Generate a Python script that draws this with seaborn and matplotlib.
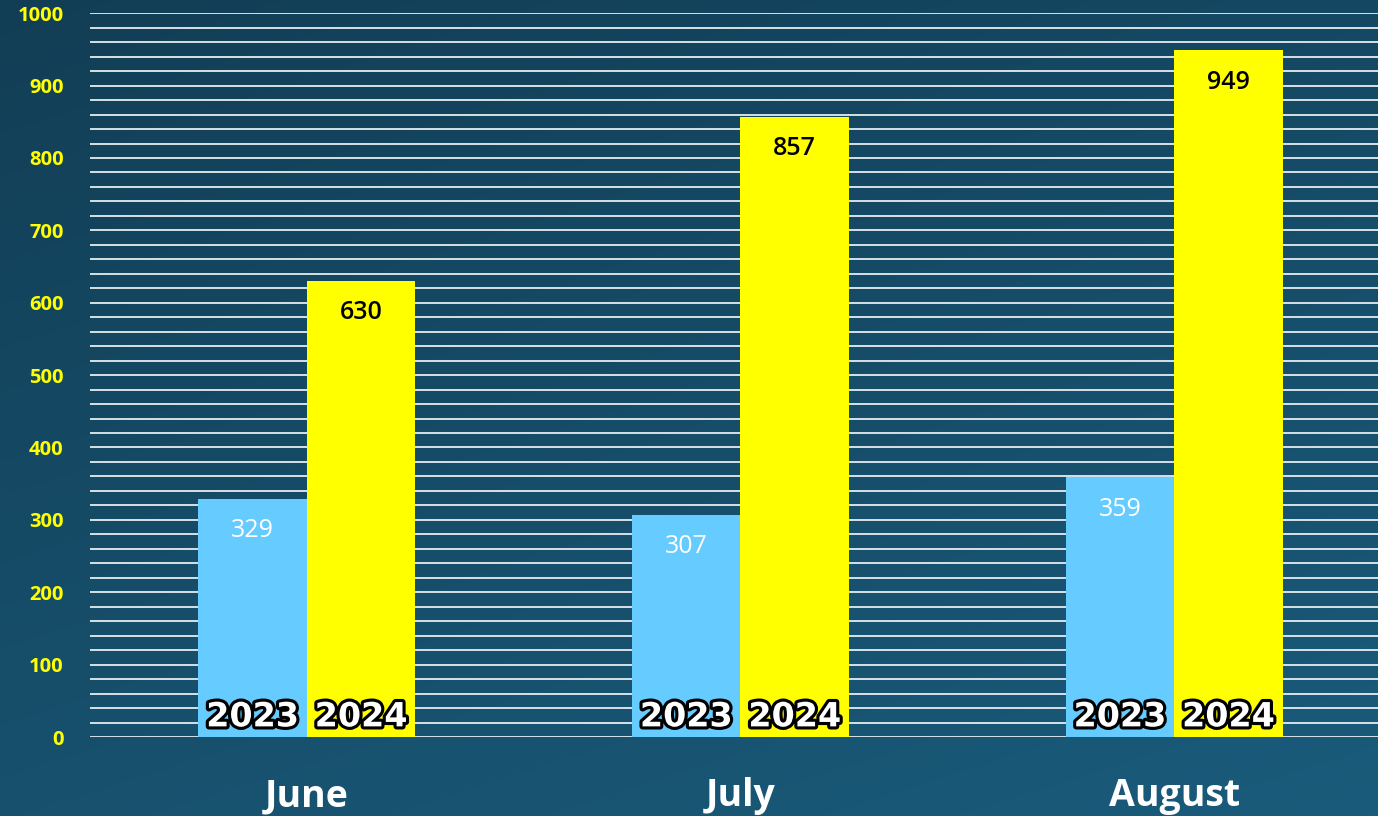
import numpy as np
import pandas as pd
import matplotlib.pyplot as plt
import matplotlib.patheffects as pe
from matplotlib.colors import LinearSegmentedColormap
import seaborn as sns

# Chart data
months = ['June', 'July', 'August']
years = ['2023', '2024']
values_2023 = [329, 307, 359]
values_2024 = [630, 857, 949]
y_ticks = [0, 100, 200, 300, 400, 500, 600, 700, 800, 900, 1000]

bar_colors = {'2023': '#66CCFF', '2024': '#FFFF00'}
label_colors = {'2023': 'white', '2024': 'black'}

df = pd.DataFrame({
    'month': months * 2,
    'year': ['2023'] * 3 + ['2024'] * 3,
    'value': values_2023 + values_2024,
})

sns.set_theme(style='white')
plt.rcParams['font.family'] = ['Open Sans', 'DejaVu Sans']

fig = plt.figure(figsize=(13.78, 8.16), dpi=100)

# diagonal gradient background
bg = fig.add_axes([0, 0, 1, 1])
gx, gy = np.meshgrid(np.linspace(0, 1, 300), np.linspace(0, 1, 300))
grad = 0.35 * gx + 0.65 * gy
cmap = LinearSegmentedColormap.from_list('bg', ['#123e55', '#1a5b7b'])
bg.imshow(grad, cmap=cmap, aspect='auto', extent=[0, 1, 0, 1], origin='upper')
bg.set_axis_off()

ax = fig.add_axes([0.0653, 0.0968, 0.9347, 0.887])
ax.patch.set_alpha(0)

sns.barplot(data=df, x='month', y='value', hue='year', hue_order=years,
            palette=bar_colors, width=0.5, saturation=1, ax=ax,
            legend=False, linewidth=0)

ax.set_xlim(-0.5, 2.47)
ax.set_ylim(0, 1000)
ax.set_yticks(y_ticks)
ax.set_yticks(np.arange(0, 1001, 20), minor=True)
ax.set_axisbelow(True)
ax.grid(which='both', axis='y', color='#e6edf0', linewidth=1.3)
ax.grid(which='both', axis='x', visible=False)
for s in ax.spines.values():
    s.set_visible(False)

ax.tick_params(axis='y', which='both', length=0, pad=19)
ax.tick_params(axis='x', length=0, pad=29)
for lbl in ax.get_yticklabels():
    lbl.set_color('#FFFF00')
    lbl.set_fontweight('bold')
    lbl.set_fontsize(14.5)
for lbl in ax.get_xticklabels():
    lbl.set_color('white')
    lbl.set_fontweight('bold')
    lbl.set_fontsize(27)
ax.set_xlabel('')
ax.set_ylabel('')

# value labels inside bar tops and year labels at bar bottoms
for year, cont in zip(years, ax.containers):
    for bar in cont:
        xc = bar.get_x() + bar.get_width() / 2
        h = bar.get_height()
        ax.annotate(f'{h:.0f}', (xc, h), xytext=(0, -23), textcoords='offset points',
                    ha='center', va='center', fontsize=18,
                    fontweight='semibold' if year == '2024' else 'normal',
                    color=label_colors[year])
        ax.annotate(year, (xc, 0), xytext=(0, 14.5), textcoords='offset points',
                    ha='center', va='center', fontsize=24, fontweight='bold',
                    family=['DejaVu Sans'], color='white',
                    path_effects=[pe.withStroke(linewidth=4.5, foreground='black')])

fig.savefig('out.png', dpi=100)
